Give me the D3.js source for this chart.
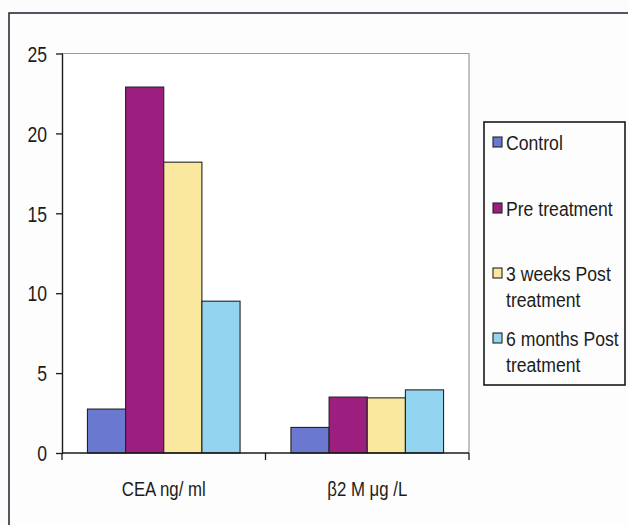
<!DOCTYPE html>
<html>
<head>
<meta charset="utf-8">
<script src="https://cdn.jsdelivr.net/npm/d3@7"></script>
<style>
  html, body { margin: 0; padding: 0; background: #fcfcfc; }
  svg { display: block; }
  text { font-family: "Liberation Sans", Arial, sans-serif; fill: #1c1c1c; }
</style>
</head>
<body>
<script>
// Marker values, grouped by assay
const categories = ["CEA ng/ ml", "β2 M μg /L"];
const seriesNames = ["Control", "Pre treatment", "3 weeks Post treatment", "6 months Post treatment"];
const legendLines = [["Control"], ["Pre treatment"], ["3 weeks Post", "treatment"], ["6 months Post", "treatment"]];
const controlValues = [2.75, 1.6];
const preValues = [22.9, 3.5];
const weeks3Values = [18.2, 3.45];
const months6Values = [9.5, 3.95];
const yTicks = [0, 5, 10, 15, 20, 25];
const seriesColors = ["#6a79cf", "#9c1f80", "#f9e89e", "#93d5f0"];

const seriesValues = [controlValues, preValues, weeks3Values, months6Values];

const W = 628, H = 525;
const plot = { left: 62, right: 469, top: 53.5, bottom: 453 };

// narrow lettering: horizontally condensed sans
function placeText(sel, x, y, sx) {
  sel.attr("x", 0).attr("y", 0).attr("transform", `translate(${x},${y}) scale(${sx},1)`);
}

const svg = d3.select("body").append("svg").attr("width", W).attr("height", H);

// outer chart frame (top and left edges are in view)
svg.append("rect")
  .attr("x", 9).attr("y", 13).attr("width", W + 20).attr("height", H + 20)
  .attr("fill", "#fdfdfd").attr("stroke", "#2a2d38").attr("stroke-width", 1.6);

// plot area
svg.append("rect")
  .attr("x", plot.left).attr("y", plot.top)
  .attr("width", plot.right - plot.left).attr("height", plot.bottom - plot.top)
  .attr("fill", "#ffffff").attr("stroke", "none");
svg.append("path")
  .attr("d", `M${plot.left},${plot.top}H${plot.right}V${plot.bottom}`)
  .attr("fill", "none").attr("stroke", "#9a9a9a").attr("stroke-width", 1.2);

const y = d3.scaleLinear().domain([0, 25]).range([plot.bottom, plot.top]);
const x0 = d3.scaleBand().domain(categories).range([plot.left, plot.right])
  .paddingInner(0.25).paddingOuter(0.125);
const x1 = d3.scaleBand().domain(d3.range(seriesNames.length)).range([0, x0.bandwidth()]).padding(0);

// bars
const groups = svg.append("g").selectAll("g").data(categories).join("g")
  .attr("transform", d => `translate(${x0(d)},0)`);
groups.selectAll("rect")
  .data((c, ci) => seriesValues.map((vals, si) => ({ si, v: vals[ci] })))
  .join("rect")
  .attr("x", d => x1(d.si))
  .attr("y", d => y(d.v))
  .attr("width", x1.bandwidth())
  .attr("height", d => y(0) - y(d.v))
  .attr("fill", d => seriesColors[d.si])
  .attr("stroke", "#222")
  .attr("stroke-width", 1.1);

// value axis
const yAxis = svg.append("g").attr("transform", `translate(${plot.left},0)`)
  .call(d3.axisLeft(y).tickValues(yTicks).tickSize(6).tickSizeOuter(0));
yAxis.select(".domain").attr("stroke", "#1a1a1a").attr("stroke-width", 1.4);
yAxis.selectAll(".tick line").attr("x2", -6).attr("x1", 1).attr("stroke", "#1a1a1a").attr("stroke-width", 1.3);
yAxis.selectAll(".tick text")
  .attr("font-size", 22).attr("fill", "#1c1c1c").attr("dy", null)
  .attr("dominant-baseline", "central")
  .style("font-family", null)
  .each(function () { placeText(d3.select(this), -15, 0, 0.8); });

// category axis
const xAxis = svg.append("g").attr("transform", `translate(0,${plot.bottom})`);
xAxis.append("line").attr("x1", plot.left).attr("x2", plot.right)
  .attr("stroke", "#1a1a1a").attr("stroke-width", 1.4);
const boundaries = [plot.left, x0(categories[1]) - x0.step() * x0.paddingInner() / 2, plot.right];
xAxis.selectAll("line.tk").data(boundaries).join("line").attr("class", "tk")
  .attr("x1", d => d).attr("x2", d => d).attr("y1", 0).attr("y2", 7)
  .attr("stroke", "#1a1a1a").attr("stroke-width", 1.3);
xAxis.selectAll("text").data(categories).join("text")
  .attr("text-anchor", "middle")
  .attr("font-size", 21)
  .text(d => d)
  .each(function (d) { placeText(d3.select(this), x0(d) + x0.bandwidth() / 2, 43, 0.8); });

// legend
const legend = svg.append("g");
legend.append("rect").attr("x", 484).attr("y", 122).attr("width", 141).attr("height", 263)
  .attr("fill", "#fdfdfd").attr("stroke", "#1a1a1a").attr("stroke-width", 1.6);
const legendY = [142, 208, 273, 338];
seriesNames.forEach((name, i) => {
  legend.append("rect").attr("x", 493).attr("y", legendY[i] - 5).attr("width", 9).attr("height", 10)
    .attr("fill", seriesColors[i]).attr("stroke", "#222").attr("stroke-width", 1.1);
  const t = legend.append("text").attr("font-size", 21);
  placeText(t, 506, legendY[i] + 7.5, 0.84);
  t.selectAll("tspan").data(legendLines[i]).join("tspan")
    .attr("x", 0).attr("dy", (d, k) => k === 0 ? 0 : 27).text(d => d);
});
</script>
</body>
</html>
